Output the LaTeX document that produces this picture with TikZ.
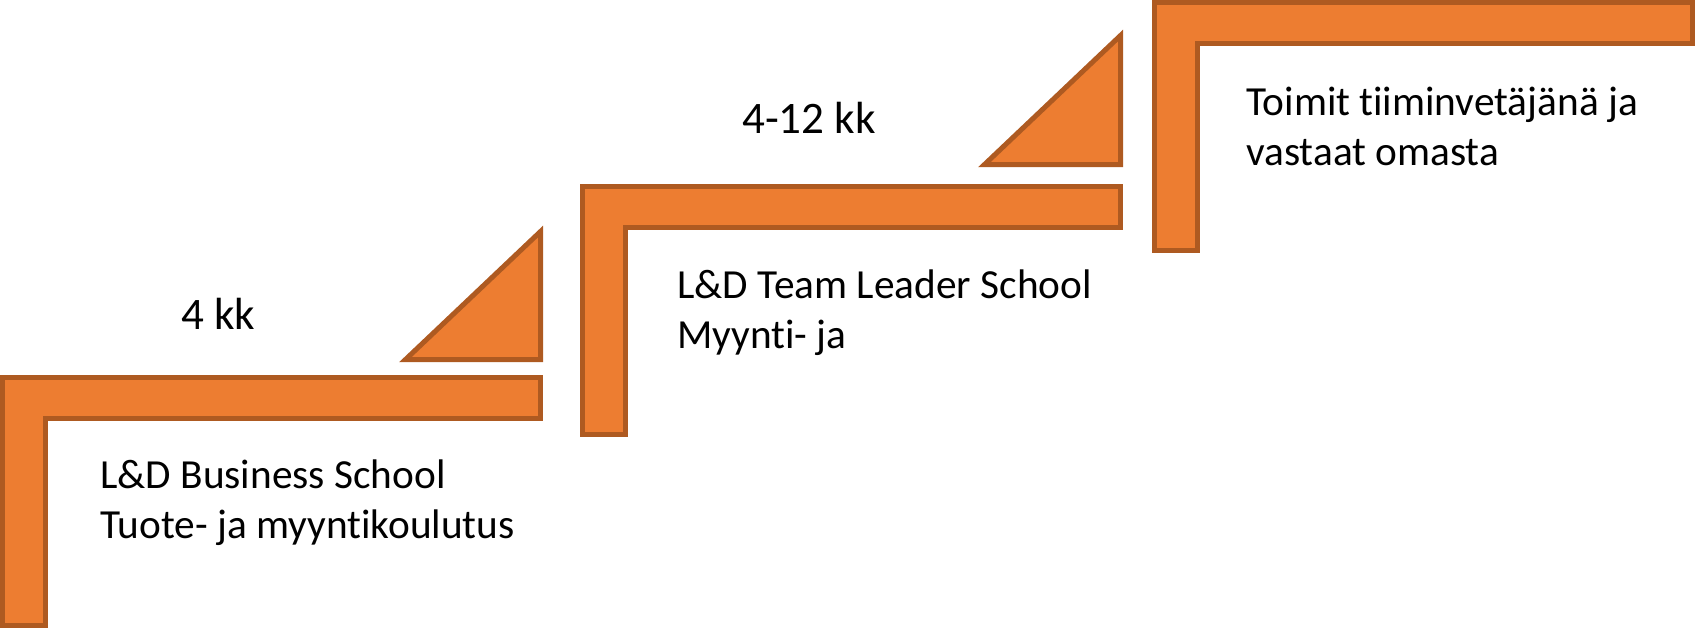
\documentclass[tikz,border=0pt]{standalone}
\usepackage{fontspec}
\setmainfont{Carlito}[Ligatures={NoCommon,NoContextual}]
\usepackage{tikz}
\definecolor{stepOrange}{HTML}{ED7D31}
\definecolor{stepEdge}{HTML}{AE5A21}

\begin{document}
\begin{tikzpicture}[x=0.75pt,y=-0.75pt,
    stair/.style={fill=stepOrange,draw=stepEdge,line width=3.75pt,miter limit=10},
    steptext/.style={anchor=base west,inner sep=0pt,font=\fontsize{31pt}{37.5pt}\selectfont},
    durtext/.style={anchor=base west,inner sep=0pt,font=\fontsize{33.8pt}{40pt}\selectfont}]
    \useasboundingbox (0,0) rectangle (1695,629);
    % Step 1
    \draw[stair] (2.5,377.5) -- (540.5,377.5) -- (540.5,418.5) -- (45.5,418.5)
        -- (45.5,625.5) -- (2.5,625.5) -- cycle;
    \draw[stair] (540.5,231.5) -- (540.5,359.5) -- (405.5,359.5) -- cycle;
    \node[durtext] (kk1) at (181,329) {4 kk};
    \node[steptext] (bs1) at (100,488) {L\&D Business School};
    \node[steptext] (bs2) at ([yshift=-37.5pt]bs1.base west) {Tuote- ja myyntikoulutus};
    % Step 2
    \draw[stair] (582.5,186.5) -- (1120.5,186.5) -- (1120.5,227.5) -- (625.5,227.5)
        -- (625.5,434.5) -- (582.5,434.5) -- cycle;
    \draw[stair] (1120.5,35.5) -- (1120.5,164.5) -- (984.5,164.5) -- cycle;
    \node[durtext] (kk2) at (742,133) {4-12 kk};
    \node[steptext] (tl1) at (677,298) {L\&D Team Leader School};
    \node[steptext] (tl2) at ([yshift=-37.5pt]tl1.base west) {Myynti- ja};
    % Step 3
    \draw[stair] (1154.5,2.5) -- (1692.5,2.5) -- (1692.5,43.5) -- (1197.5,43.5)
        -- (1197.5,250.5) -- (1154.5,250.5) -- cycle;
    \node[steptext] (tv1) at (1246,115) {Toimit tiiminvetäjänä ja};
    \node[steptext] (tv2) at ([yshift=-37.5pt]tv1.base west) {vastaat omasta};
\end{tikzpicture}
\end{document}
